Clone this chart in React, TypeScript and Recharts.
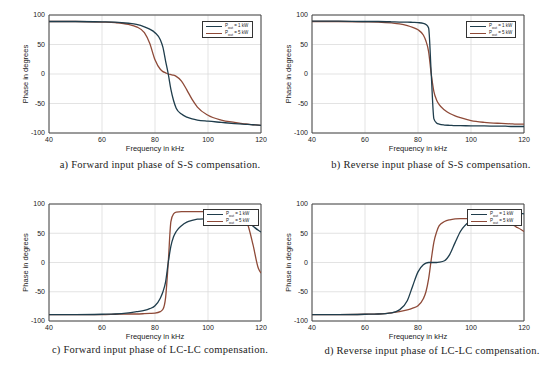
import React from 'react';
import { LineChart, Line, XAxis, YAxis, CartesianGrid, ReferenceLine, Label } from 'recharts';

// frequency sample points (kHz), shared by all four panels
const freqKHz = [40, 50, 60, 65, 70, 73, 76, 78, 80, 82, 83, 84, 85, 86, 87, 88, 90, 92, 94, 96, 100, 105, 110, 113, 115, 117, 119, 120];

// a) forward input phase, S-S
const ssForward1kW = [89, 89, 88.5, 88, 86, 84, 80, 76, 70, 58, 45, 22, 0, -26, -45, -58, -68, -73, -76, -78, -80, -82, -84, -85, -85.5, -86, -86.5, -87];
const ssForward5kW = [89, 89, 88, 87, 84, 80, 70, 52, 24, 8, 4, 2, 0, -1, -2, -4, -12, -27, -43, -56, -70, -78, -82, -84, -85, -86, -86.5, -87];
// b) reverse input phase, S-S
const ssReverse1kW = [89.5, 89.5, 89, 89, 88.5, 88, 88, 87.5, 87, 86, 84, 78, 0, -76, -83, -85, -86.5, -87, -87.5, -87.5, -88, -88, -88.5, -88.5, -89, -89, -89, -89];
const ssReverse5kW = [89, 89, 88.5, 88, 86.5, 85, 82, 79, 75, 66, 56, 38, 0, -30, -44, -52, -61, -67, -71, -74, -79, -82, -83.5, -84, -84.5, -85, -85, -85];
// c) forward input phase, LC-LC
const lcForward1kW = [-89, -89, -88.5, -88, -86, -84, -82, -79, -74, -61, -50, -33, 0, 28, 44, 53, 63, 69, 72, 74, 75, 77, 78, 74, 69, 62, 55, 52];
const lcForward5kW = [-89, -89, -89, -88.5, -88, -88, -87.5, -87, -86.5, -84, -80, -60, 0, 70, 83, 86, 87, 87, 87, 87, 87, 87, 86, 82, 65, 30, -10, -18];
// d) reverse input phase, LC-LC
const lcReverse1kW = [-89, -89, -88.5, -88, -86, -81, -65, -40, -16, -4, -1, 0, 0, 0, 0, 0.5, 3, 14, 34, 53, 72, 80, 84, 85, 85, 84.5, 84, 83];
const lcReverse5kW = [-89, -89, -88.5, -88, -86, -84, -81, -78, -74, -62, -50, -28, 5, 35, 52, 63, 70, 73, 74.5, 75, 75, 74, 72, 69, 66, 61, 56, 53];

const freqTicks = [40, 60, 80, 100, 120];
const phaseTicks = [-100, -50, 0, 50, 100];
const legendLabels = ['= 1 kW', '= 5 kW'];
const captions = [
  'a) Forward input phase of S-S compensation.',
  'b) Reverse input phase of S-S compensation.',
  'c) Forward input phase of LC-LC compensation.',
  'd) Reverse input phase of LC-LC compensation.',
];

const BLUE = '#1f3d4c';
const RED = '#8e4a38';
const SANS = '"Liberation Sans", Arial, sans-serif';

const build = (a: number[], b: number[]) => freqKHz.map((f, i) => ({ f, p1: a[i], p5: b[i] }));

const YTitle = (props: any) => {
  const { x, y, width, height } = props.viewBox;
  const cx = x + width - 24;
  const cy = y + height / 2;
  return (
    <text x={cx} y={cy} transform={`rotate(-90, ${cx}, ${cy})`} textAnchor="middle" dominantBaseline="central"
      fontSize={7.5} fontFamily={SANS} fill="#222">Phase in degrees</text>
  );
};

const XTitle = (props: any) => {
  const { x, y, width } = props.viewBox;
  return (
    <text x={x + width / 2} y={y + 18} textAnchor="middle" fontSize={7.5} fontFamily={SANS} fill="#222">
      Frequency in kHz
    </text>
  );
};

const LegendBox: React.FC<{ left: number; top: number; width: number }> = ({ left, top, width }) => (
  <div style={{ position: 'absolute', left, top, width, height: 17, border: '1px solid #333', background: '#fff',
    fontFamily: SANS, fontSize: 4.5, color: '#222', boxSizing: 'border-box' }}>
    {[BLUE, RED].map((c, i) => (
      <div key={i} style={{ display: 'flex', alignItems: 'center', height: 7.5, marginTop: i === 0 ? 0.5 : 0 }}>
        <div style={{ width: 16, height: 1.2, background: c, marginLeft: 3, marginRight: 3 }} />
        <span>P<sub style={{ fontSize: 3.5 }}>out</sub> {legendLabels[i]}</span>
      </div>
    ))}
  </div>
);

const Panel: React.FC<{ data: any[]; left: number; top: number; width: number; margin: any }> = ({ data, left, top, width, margin }) => (
  <div style={{ position: 'absolute', left, top }}>
    <LineChart width={width} height={160} data={data} margin={margin}>
      <CartesianGrid stroke="#dcdcdc" strokeWidth={0.8} />
      <XAxis dataKey="f" type="number" domain={[40, 120]} ticks={freqTicks} allowDataOverflow height={20}
        tickLine={false} tickSize={3} tickMargin={1} axisLine={{ stroke: '#444' }}
        tick={{ fontSize: 7, fontFamily: SANS, fill: '#222' }}>
        <Label content={<XTitle />} />
      </XAxis>
      <YAxis type="number" domain={[-100, 100]} ticks={phaseTicks} allowDataOverflow width={30}
        tickLine={false} tickSize={3} tickMargin={1} axisLine={{ stroke: '#444' }}
        tick={{ fontSize: 7, fontFamily: SANS, fill: '#222' }}>
        <Label content={<YTitle />} />
      </YAxis>
      <ReferenceLine x={120} stroke="#444" />
      <ReferenceLine y={100} stroke="#444" />
      <Line dataKey="p5" type="monotone" stroke={RED} strokeWidth={1.3} dot={false} isAnimationActive={false} />
      <Line dataKey="p1" type="monotone" stroke={BLUE} strokeWidth={1.3} dot={false} isAnimationActive={false} />
    </LineChart>
  </div>
);

const Caption: React.FC<{ cx: number; y: number; text: string }> = ({ cx, y, text }) => (
  <div style={{ position: 'absolute', left: cx - 130, top: y, width: 260, textAlign: 'center',
    fontFamily: '"Liberation Serif", "Times New Roman", serif', fontSize: 10.5, letterSpacing: 0.25,
    color: '#222', whiteSpace: 'nowrap' }}>
    {text}
  </div>
);

export default function App() {
  return (
    <div style={{ position: 'absolute', left: 0, top: 0, width: 553, height: 375, background: '#fff', overflow: 'hidden' }}>
      <Panel data={build(ssForward1kW, ssForward5kW)} left={0} top={0} width={276}
        margin={{ top: 15, right: 15, left: 19, bottom: 7 }} />
      <Panel data={build(ssReverse1kW, ssReverse5kW)} left={276} top={0} width={277}
        margin={{ top: 15, right: 29, left: 6, bottom: 7 }} />
      <Panel data={build(lcForward1kW, lcForward5kW)} left={0} top={187} width={276}
        margin={{ top: 17, right: 15, left: 19, bottom: 6 }} />
      <Panel data={build(lcReverse1kW, lcReverse5kW)} left={276} top={187} width={277}
        margin={{ top: 17, right: 29, left: 6, bottom: 6 }} />

      <LegendBox left={202} top={21} width={51} />
      <LegendBox left={466} top={21} width={50} />
      <LegendBox left={203} top={209} width={56} />
      <LegendBox left={467} top={209} width={55} />

      <Caption cx={160} y={159} text={captions[0]} />
      <Caption cx={431} y={159} text={captions[1]} />
      <Caption cx={160} y={344} text={captions[2]} />
      <Caption cx={432} y={345} text={captions[3]} />
    </div>
  );
}
